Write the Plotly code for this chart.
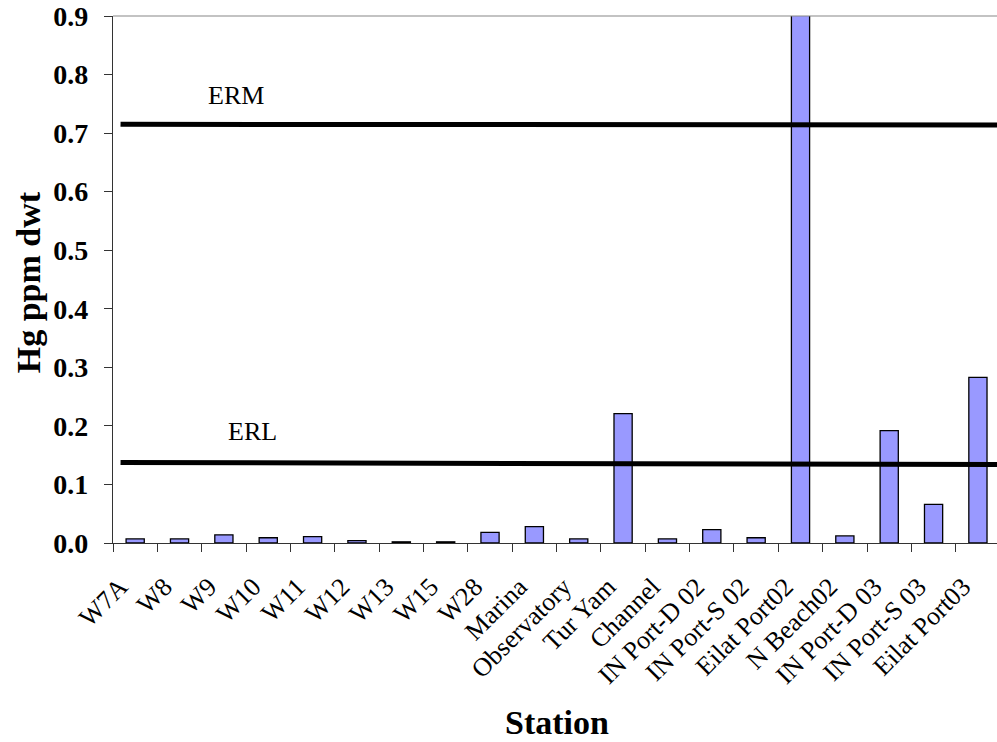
import plotly.graph_objects as go

stations = ["W7A", "W8", "W9", "W10", "W11", "W12", "W13", "W15", "W28", "Marina",
            "Observatory", "Tur Yam", "Channel", "IN Port-D 02", "IN Port-S 02",
            "Eilat Port02", "N Beach02", "IN Port-D 03", "IN Port-S 03", "Eilat Port03"]
hg_values = [0.007, 0.007, 0.014, 0.009, 0.011, 0.004, 0.002, 0.002, 0.018, 0.028,
             0.007, 0.221, 0.007, 0.023, 0.009, 1.0, 0.012, 0.192, 0.066, 0.283]

erm_values = [0.715, 0.714]
erl_values = [0.1375, 0.134]
guide_x = [-0.33, 19.6]

y_ticks = [0.0, 0.1, 0.2, 0.3, 0.4, 0.5, 0.6, 0.7, 0.8, 0.9]

SERIF = "Liberation Serif"

fig = go.Figure()
fig.add_trace(go.Bar(
    x=stations, y=hg_values,
    marker=dict(color="#9999FF", line=dict(color="black", width=1.3)),
    showlegend=False,
))

for vals in (erm_values, erl_values):
    fig.add_shape(type="line", xref="x", yref="y",
                  x0=guide_x[0], x1=guide_x[1], y0=vals[0], y1=vals[1],
                  line=dict(color="black", width=5))

fig.add_annotation(x=2.28, y=0.765, text="ERM", showarrow=False,
                   font=dict(family=SERIF, size=26, color="black"))
fig.add_annotation(x=2.64, y=0.19, text="ERL", showarrow=False,
                   font=dict(family=SERIF, size=26, color="black"))

# axis titles
fig.add_annotation(xref="paper", yref="paper", x=0.502, y=-0.34, text="<b>Station</b>",
                   xanchor="center", yanchor="middle", showarrow=False,
                   font=dict(family=SERIF, size=34, color="black"))
fig.add_annotation(xref="paper", yref="paper", x=-0.096, y=0.495, text="<b>Hg ppm dwt</b>",
                   xanchor="center", yanchor="middle", textangle=-90, showarrow=False,
                   font=dict(family=SERIF, size=34, color="black"))

# top border of plot area
fig.add_shape(type="line", xref="paper", yref="paper", x0=0, x1=1, y0=1, y1=1,
              line=dict(color="#888888", width=1.2))

fig.update_layout(
    width=997, height=742,
    margin=dict(l=113, r=0, t=16, b=199),
    paper_bgcolor="white", plot_bgcolor="white",
    bargap=0.59,
    font=dict(family=SERIF, color="black"),
    xaxis=dict(
        type="category", range=[-0.5, 19.43], automargin=False,
        showline=True, linecolor="#333333", linewidth=1.3,
        ticks="outside", ticklen=8, tickcolor="#333333", tickson="boundaries",
        tickangle=-45, tickfont=dict(family=SERIF, size=26, color="black"),
        ticklabelstandoff=17, ticklabelshift=-15,
        showgrid=False,
    ),
    yaxis=dict(
        range=[0, 0.9], tickvals=y_ticks, tickformat=".1f", automargin=False,
        showline=True, linecolor="#333333", linewidth=1.3,
        ticks="outside", ticklen=8, tickcolor="#333333",
        tickfont=dict(family=SERIF, size=28, color="black", weight="bold"),
        ticklabelstandoff=10, ticklabeloverflow="allow",
        showgrid=False, zeroline=False,
    ),
)

fig.write_html("out.html", config={"displayModeBar": False},
               post_script="document.body.style.margin='0';")
